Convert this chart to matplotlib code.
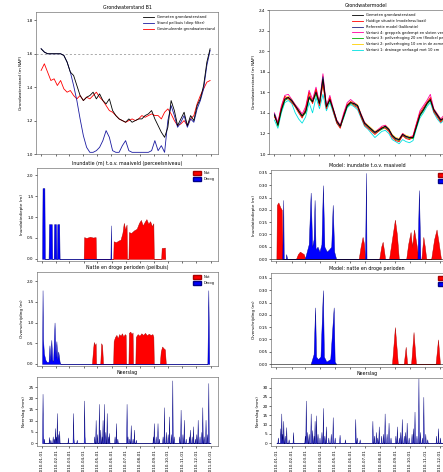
import numpy as np
import pandas as pd
import matplotlib
matplotlib.use("Agg")
import matplotlib.pyplot as plt
import matplotlib.dates as mdates
from matplotlib.patches import Patch

plt.rcParams.update({
    "font.family": ["DejaVu Sans"],
    "font.size": 3.0,
    "axes.linewidth": 0.4,
    "xtick.major.width": 0.4,
    "ytick.major.width": 0.4,
    "xtick.major.size": 1.5,
    "ytick.major.size": 1.5,
    "xtick.major.pad": 1,
    "ytick.major.pad": 1,
    "axes.titlesize": 3.4,
    "axes.titlepad": 2,
    "axes.labelpad": 2,
    "legend.fontsize": 2.6,
})

START = pd.Timestamp("2010-01-01")
week_dates = pd.date_range(START, periods=53, freq="7D")

# ---------------- groundwater levels, weekly (m) ----------------
gw_left_meas = [1.63, 1.61, 1.60, 1.60, 1.60, 1.60, 1.60, 1.59, 1.55, 1.49,
                1.47, 1.41, 1.35, 1.32, 1.34, 1.35, 1.37, 1.33, 1.36, 1.32,
                1.30, 1.33, 1.26, 1.23, 1.21, 1.20, 1.19, 1.21, 1.19, 1.20,
                1.21, 1.21, 1.23, 1.24, 1.26, 1.21, 1.17, 1.13, 1.10, 1.16,
                1.32, 1.26, 1.17, 1.21, 1.25, 1.17, 1.23, 1.20, 1.29, 1.33,
                1.41, 1.55, 1.63]
gw_left_probe = [1.63, 1.61, 1.60, 1.60, 1.60, 1.60, 1.60, 1.59, 1.55, 1.49,
                 1.41, 1.32, 1.21, 1.11, 1.04, 1.01, 1.01, 1.02, 1.04, 1.08,
                 1.14, 1.10, 1.02, 1.01, 1.01, 1.05, 1.08, 1.02, 1.01, 1.01,
                 1.01, 1.01, 1.01, 1.01, 1.02, 1.08, 1.02, 1.05, 1.01, 1.20,
                 1.29, 1.23, 1.16, 1.19, 1.23, 1.16, 1.21, 1.19, 1.27, 1.32,
                 1.39, 1.53, 1.62]
gw_left_model = [1.50, 1.54, 1.49, 1.44, 1.45, 1.41, 1.44, 1.39, 1.37, 1.38,
                 1.35, 1.33, 1.35, 1.32, 1.34, 1.33, 1.35, 1.37, 1.34, 1.32,
                 1.29, 1.26, 1.25, 1.23, 1.21, 1.20, 1.19, 1.20, 1.21, 1.20,
                 1.21, 1.23, 1.22, 1.23, 1.24, 1.23, 1.23, 1.21, 1.25, 1.27,
                 1.24, 1.20, 1.17, 1.18, 1.20, 1.17, 1.21, 1.23, 1.30, 1.35,
                 1.39, 1.43, 1.44]
gw_left_threshold = 1.60

gw_right_meas = [1.38, 1.28, 1.43, 1.53, 1.55, 1.52, 1.47, 1.42, 1.37, 1.41,
                 1.55, 1.51, 1.60, 1.49, 1.73, 1.46, 1.53, 1.43, 1.32, 1.27,
                 1.37, 1.47, 1.50, 1.49, 1.47, 1.38, 1.30, 1.27, 1.24, 1.21,
                 1.23, 1.25, 1.27, 1.24, 1.18, 1.15, 1.14, 1.19, 1.17, 1.16,
                 1.16, 1.27, 1.38, 1.43, 1.49, 1.53, 1.43, 1.38, 1.33, 1.35,
                 1.41, 1.45, 1.43]
gw_right_base = [1.36, 1.30, 1.45, 1.56, 1.54, 1.50, 1.46, 1.40, 1.35, 1.44,
                 1.60, 1.49, 1.63, 1.47, 1.68, 1.44, 1.55, 1.41, 1.30, 1.25,
                 1.38, 1.48, 1.51, 1.47, 1.45, 1.36, 1.28, 1.25, 1.22, 1.19,
                 1.22, 1.26, 1.25, 1.22, 1.16, 1.13, 1.12, 1.18, 1.15, 1.14,
                 1.17, 1.29, 1.40, 1.45, 1.50, 1.55, 1.41, 1.36, 1.31, 1.36,
                 1.40, 1.46, 1.42]
gw_right_s1 = [1.33, 1.25, 1.40, 1.50, 1.52, 1.49, 1.40, 1.34, 1.30, 1.36,
               1.50, 1.40, 1.55, 1.44, 1.58, 1.42, 1.50, 1.40, 1.30, 1.26,
               1.35, 1.45, 1.48, 1.46, 1.43, 1.35, 1.27, 1.24, 1.20, 1.16,
               1.19, 1.22, 1.23, 1.20, 1.14, 1.12, 1.10, 1.14, 1.12, 1.11,
               1.13, 1.25, 1.35, 1.40, 1.46, 1.50, 1.40, 1.34, 1.30, 1.33,
               1.38, 1.43, 1.40]
gw_right_s2 = [1.37, 1.29, 1.44, 1.54, 1.56, 1.53, 1.48, 1.43, 1.38, 1.42,
               1.57, 1.52, 1.62, 1.50, 1.76, 1.47, 1.54, 1.44, 1.33, 1.28,
               1.38, 1.48, 1.51, 1.50, 1.48, 1.39, 1.31, 1.28, 1.25, 1.22,
               1.24, 1.26, 1.28, 1.25, 1.19, 1.16, 1.15, 1.20, 1.18, 1.17,
               1.17, 1.28, 1.39, 1.44, 1.50, 1.54, 1.44, 1.39, 1.34, 1.36,
               1.42, 1.46, 1.44]
gw_right_s3 = [1.38, 1.27, 1.42, 1.52, 1.54, 1.51, 1.46, 1.41, 1.36, 1.40,
               1.54, 1.50, 1.58, 1.48, 1.70, 1.45, 1.52, 1.42, 1.31, 1.26,
               1.36, 1.46, 1.49, 1.48, 1.46, 1.37, 1.29, 1.26, 1.23, 1.20,
               1.22, 1.24, 1.26, 1.23, 1.17, 1.14, 1.13, 1.18, 1.16, 1.15,
               1.15, 1.26, 1.37, 1.42, 1.48, 1.52, 1.42, 1.37, 1.32, 1.34,
               1.40, 1.44, 1.42]
gw_right_s4 = [1.40, 1.31, 1.47, 1.57, 1.58, 1.53, 1.48, 1.44, 1.39, 1.46,
               1.62, 1.53, 1.65, 1.50, 1.78, 1.47, 1.57, 1.44, 1.33, 1.28,
               1.40, 1.50, 1.53, 1.50, 1.47, 1.39, 1.31, 1.27, 1.24, 1.21,
               1.24, 1.27, 1.28, 1.24, 1.18, 1.15, 1.14, 1.20, 1.17, 1.16,
               1.18, 1.30, 1.42, 1.47, 1.52, 1.58, 1.44, 1.39, 1.34, 1.38,
               1.43, 1.48, 1.44]
gw_right_s5 = [1.39, 1.29, 1.44, 1.54, 1.55, 1.52, 1.47, 1.42, 1.37, 1.42,
               1.56, 1.51, 1.61, 1.49, 1.75, 1.46, 1.53, 1.43, 1.32, 1.27,
               1.37, 1.47, 1.50, 1.49, 1.47, 1.38, 1.30, 1.27, 1.24, 1.21,
               1.23, 1.25, 1.27, 1.24, 1.18, 1.15, 1.14, 1.19, 1.17, 1.16,
               1.16, 1.27, 1.38, 1.43, 1.49, 1.53, 1.43, 1.38, 1.33, 1.35,
               1.41, 1.45, 1.43]

# ---------------- inundation events: day of year, depth (m) ----------------
inund_l_wet_days = [90, 91, 96, 104, 110, 116, 117,
                    154, 155, 160, 166, 170, 174, 177, 180, 183, 184,
                    187, 188, 193, 199, 205, 210, 214, 218, 222, 226, 230, 234, 238, 241, 242,
                    258, 259, 266, 267]
inund_l_wet_vals = [0, 0.52, 0.50, 0.53, 0.51, 0.52, 0,
                    0, 0.42, 0.40, 0.44, 0.46, 0.62, 0.86, 0.70, 0.82, 0,
                    0, 0.64, 0.62, 0.68, 0.72, 0.86, 0.93, 0.80, 0.88, 0.95, 0.84, 0.90, 0.78, 0.85, 0,
                    0, 0.26, 0.27, 0]
inund_l_dry_days = [0, 1, 5, 6, 14, 15, 21, 22, 25, 26, 30, 31, 32, 33, 37, 38, 148, 149, 150]
inund_l_dry_vals = [0, 1.69, 1.69, 0, 0, 0.83, 0.83, 0, 0, 0.83, 0.83, 0, 0, 0.83, 0.83, 0, 0, 0.80, 0]

inund_r_wet_days = [0, 1, 4, 8, 11, 13,
                    40, 44, 48, 52, 56, 59,
                    168, 172, 176, 179, 181,
                    210, 214, 217, 220, 222,
                    230, 236, 242, 246, 250,
                    265, 269, 274, 277, 281, 286, 290,
                    296, 300, 303, 306,
                    316, 322, 327, 331, 336]
inund_r_wet_vals = [0, 0.22, 0.23, 0.21, 0.20, 0,
                    0, 0.02, 0.03, 0.025, 0.02, 0,
                    0, 0.05, 0.09, 0.06, 0,
                    0, 0.05, 0.07, 0.03, 0,
                    0, 0.08, 0.16, 0.10, 0,
                    0, 0.06, 0.11, 0.05, 0.12, 0.06, 0,
                    0, 0.09, 0.05, 0,
                    0, 0.08, 0.12, 0.07, 0]
inund_r_dry_days = [12, 14, 15, 19, 20, 22,
                    58, 62, 66, 70, 73, 76, 78, 80, 84, 88, 92, 95, 98, 103, 108, 112, 115, 118, 122,
                    181, 183, 184, 288, 291, 294]
inund_r_dry_vals = [0, 0.24, 0, 0, 0.02, 0,
                    0, 0.03, 0.06, 0.27, 0.05, 0.08, 0.24, 0.04, 0.05, 0.03, 0.06, 0.30, 0.05, 0.03, 0.04, 0.05, 0.22, 0.03, 0,
                    0, 0.35, 0, 0, 0.28, 0]

# ---------------- wet / dry periods: day of year, depth (m) ----------------
period_l_dry_days = [0, 1, 2, 4, 7, 10, 14, 16, 18, 20, 22, 24, 27, 29, 31, 33, 35, 38, 40, 358, 360, 362]
period_l_dry_vals = [0, 1.78, 0.60, 0.25, 0.10, 0.05, 0.05, 0.45, 0.08, 0.58, 0.10, 0.06, 1.00,
                     0.15, 0.55, 0.10, 0.30, 0.05, 0, 0, 1.78, 0]
period_l_wet_days = [108, 110, 112, 114, 116, 117,
                     126, 128, 130, 132,
                     154, 155, 158, 161, 164, 167, 170, 173, 176, 179, 181, 182,
                     187, 188, 191, 194, 196, 197,
                     202, 203, 207, 211, 215, 219, 223, 227, 231, 235, 239, 241, 242,
                     255, 257, 260, 263, 266, 268]
period_l_wet_vals = [0, 0.30, 0.53, 0.45, 0.50, 0,
                     0, 0.50, 0.45, 0,
                     0, 0.55, 0.65, 0.70, 0.62, 0.72, 0.68, 0.74, 0.66, 0.72, 0.70, 0,
                     0, 0.75, 0.78, 0.72, 0.76, 0,
                     0, 0.65, 0.72, 0.68, 0.74, 0.70, 0.75, 0.69, 0.73, 0.70, 0.72, 0.66, 0,
                     0, 0.30, 0.42, 0.38, 0.35, 0]
period_r_dry_days = [70, 73, 76, 79, 81, 85, 90, 95, 97, 102, 110, 117, 119, 122]
period_r_dry_vals = [0, 0.02, 0.04, 0.23, 0.03, 0.02, 0.03, 0.30, 0.03, 0.01, 0.02, 0.23, 0.01, 0]
period_r_wet_days = [236, 242, 248, 260, 264, 267, 275, 280, 285, 325, 330, 334]
period_r_wet_vals = [0, 0.15, 0, 0, 0.07, 0, 0, 0.13, 0, 0, 0.10, 0]

# ---------------- daily precipitation (mm), rain days only ----------------
rain_l_days = [1, 2, 4, 15, 18, 23, 26, 28, 30, 32, 34, 37, 56, 67, 68, 75, 91, 92,
               113, 116, 119, 123, 126, 129, 131, 134, 137, 140, 143, 145,
               157, 160, 163, 183, 185, 189, 192, 196, 199, 203,
               240, 242, 246, 250, 253, 261, 264, 268, 272, 275, 279, 282, 285,
               297, 300, 304, 307, 311, 318, 320, 324, 327, 331, 334, 337, 341,
               345, 347, 350, 354, 357, 360]
rain_l_vals = [22, 4, 2, 2.7, 1.5, 3, 2, 6.7, 3, 13.4, 4, 5.5, 2.5, 13.4, 2, 1.5, 19, 3,
               3, 10.3, 4, 17.5, 6, 3, 10.3, 17.5, 5, 13.4, 3, 4.5,
               3, 8.9, 2, 17.5, 3, 2, 8, 2, 6, 1.5,
               3, 8.9, 3, 8.9, 2, 3, 16, 5, 4, 11.9, 4, 28, 3,
               3, 14.9, 4, 10.4, 2, 3, 6, 3, 7.5, 2, 4, 10.4, 3,
               5, 16, 3, 10.4, 4, 26.8]
rain_r_days = [3, 8, 10, 12, 14, 17, 20, 25, 34,
               58, 60, 63, 66, 70, 73, 76, 78, 81, 84, 88, 92, 95, 98, 101, 106, 111, 115, 119,
               129, 140, 161, 164, 170,
               196, 199, 203, 206, 209, 214, 218, 221, 225, 229, 233,
               243, 246, 250, 253, 256, 260, 263, 266, 270,
               276, 279, 282, 286, 290, 293, 297, 300, 304, 308,
               326, 330, 334]
rain_r_vals = [3, 8, 16, 5, 12, 4, 8.6, 2, 5.9,
               4, 23, 6, 5, 16, 7, 4, 12, 15, 5, 3, 6, 19, 4, 9, 3, 5, 14, 3,
               4.5, 2, 13, 3, 2,
               12, 4, 6, 3, 9, 4, 5, 16, 5, 11, 3,
               4, 9, 3, 6, 13, 4, 6, 11, 3,
               5, 8, 17, 4, 35, 6, 3, 25, 5, 2,
               4, 8, 3]

for a, b in [(inund_l_wet_days, inund_l_wet_vals), (inund_l_dry_days, inund_l_dry_vals),
             (inund_r_wet_days, inund_r_wet_vals), (inund_r_dry_days, inund_r_dry_vals),
             (period_l_dry_days, period_l_dry_vals), (period_l_wet_days, period_l_wet_vals),
             (period_r_dry_days, period_r_dry_vals), (period_r_wet_days, period_r_wet_vals),
             (rain_l_days, rain_l_vals), (rain_r_days, rain_r_vals)]:
    assert len(a) == len(b)


def to_dates(days):
    return START + pd.to_timedelta(np.asarray(days), unit="D")


def daily(days, vals):
    arr = np.zeros(366)
    arr[np.asarray(days)] = vals
    return arr


daily_dates = to_dates(np.arange(366))

RED = "#ff0000"
BLUE = "#0000ff"
XLIM = (pd.Timestamp("2009-12-21"), pd.Timestamp("2011-01-17"))

W, H = 443, 472
fig = plt.figure(figsize=(W / 100, H / 100), dpi=100)


def panel(x0, y0, x1, y1):
    return fig.add_axes([x0 / W, 1 - y1 / H, (x1 - x0) / W, (y1 - y0) / H])


left_rows = [(36, 12, 218, 154), (37, 168, 218, 261), (37, 272, 218, 366), (37, 377, 218, 446)]
right_rows = [(269, 10, 463, 154), (271, 170, 463, 261), (271, 273, 463, 367), (271, 378, 463, 446)]

axL = [panel(*r) for r in left_rows]
axR = [panel(*r) for r in right_rows]

for ax in axL + axR:
    ax.set_xlim(*XLIM)
    ax.xaxis.set_major_locator(mdates.MonthLocator())
    ax.xaxis.set_major_formatter(mdates.DateFormatter("%Y-%m-%d"))
    for sp in ax.spines.values():
        sp.set_color("#555555")
for ax in axL[:3] + axR[:3]:
    ax.tick_params(axis="x", labelbottom=False)
for ax in (axL[3], axR[3]):
    ax.tick_params(axis="x", labelrotation=90)

# ---- row 1: groundwater ----
ax = axL[0]
ax.axhline(gw_left_threshold, color="#888888", lw=0.5, ls=(0, (3, 3)))
ax.plot(week_dates, gw_left_model, color=RED, lw=0.6, label="Gesimuleerde grondwaterstand")
ax.plot(week_dates, gw_left_probe, color="#1a1aa0", lw=0.6, label="Stand peilbuis (diep filter)")
ax.plot(week_dates, gw_left_meas, color="black", lw=0.6, label="Gemeten grondwaterstand")
ax.set_ylim(1.0, 1.85)
ax.set_yticks([1.0, 1.2, 1.4, 1.6, 1.8])
ax.set_title("Grondwaterstand B1")
ax.set_ylabel("Grondwaterstand (m NAP)")
h, l = ax.get_legend_handles_labels()
ax.legend(h[::-1], l[::-1], loc="upper right", frameon=False, handlelength=3)

ax = axR[0]
series_r = [
    (gw_right_s1, "#00e0e0", "Variant 1: drainage verlaagd met 10 cm"),
    (gw_right_s2, "#ffd000", "Variant 2: peilverhoging 10 cm in de zomer"),
    (gw_right_s3, "#00b000", "Variant 3: peilverhoging 20 cm (flexibel peilbeheer)"),
    (gw_right_s4, "#ff00a0", "Variant 4: greppels gedempt en sloten verondiept"),
    (gw_right_s5, "#202080", "Referentie model (kalibratie)"),
    (gw_right_base, RED, "Huidige situatie (modelresultaat)"),
    (gw_right_meas, "black", "Gemeten grondwaterstand"),
]
for vals, col, lab in series_r:
    ax.plot(week_dates, vals, color=col, lw=0.6, label=lab)
ax.set_ylim(1.0, 2.4)
ax.set_yticks(np.round(np.arange(1.0, 2.41, 0.2), 1))
ax.set_title("Grondwatermodel")
ax.set_ylabel("Grondwaterstand (m NAP)")
h, l = ax.get_legend_handles_labels()
ax.legend(h[::-1], l[::-1], loc="upper right", frameon=False, handlelength=3)

# ---- rows 2 and 3: inundation and wet / dry periods ----
def fill_events(ax, wet_days, wet_vals, dry_days, dry_vals):
    ax.fill_between(to_dates(wet_days), wet_vals, color=RED, lw=0.3, edgecolor="#aa0000")
    ax.fill_between(to_dates(dry_days), dry_vals, color=BLUE, lw=0.3, edgecolor="#000088")


def wet_dry_legend(ax):
    ax.legend(handles=[Patch(facecolor=RED, edgecolor="#aa0000", label="Nat"),
                       Patch(facecolor=BLUE, edgecolor="#000088", label="Droog")],
              loc="upper right", frameon=False, handlelength=2.2, handleheight=1.2)


ax = axL[1]
fill_events(ax, inund_l_wet_days, inund_l_wet_vals, inund_l_dry_days, inund_l_dry_vals)
ax.set_ylim(-0.05, 2.17)
ax.set_yticks([0.0, 0.5, 1.0, 1.5, 2.0])
ax.set_title("Inundatie (m) t.o.v. maaiveld (perceelsniveau)")
ax.set_ylabel("Inundatiediepte (m)")
wet_dry_legend(ax)

ax = axR[1]
ax.axhline(0, color="black", lw=0.4)
fill_events(ax, inund_r_wet_days, inund_r_wet_vals, inund_r_dry_days, inund_r_dry_vals)
ax.set_ylim(-0.008, 0.362)
ax.set_yticks(np.round(np.arange(0, 0.351, 0.05), 2))
ax.set_title("Model: inundatie t.o.v. maaiveld")
ax.set_ylabel("Inundatiediepte (m)")
wet_dry_legend(ax)

ax = axL[2]
fill_events(ax, period_l_wet_days, period_l_wet_vals, period_l_dry_days, period_l_dry_vals)
ax.set_ylim(-0.05, 2.22)
ax.set_yticks([0.0, 0.5, 1.0, 1.5, 2.0])
ax.set_title("Natte en droge perioden (peilbuis)")
ax.set_ylabel("Overschrijding (m)")
wet_dry_legend(ax)

ax = axR[2]
ax.axhline(0, color="black", lw=0.4)
fill_events(ax, period_r_wet_days, period_r_wet_vals, period_r_dry_days, period_r_dry_vals)
ax.set_ylim(-0.012, 0.37)
ax.set_yticks(np.round(np.arange(0, 0.351, 0.05), 2))
ax.set_title("Model: natte en droge perioden")
ax.set_ylabel("Overschrijding (m)")
wet_dry_legend(ax)

# ---- row 4: precipitation ----
ax = axL[3]
ax.fill_between(daily_dates, daily(rain_l_days, rain_l_vals), color="#3030ff", lw=0.3, edgecolor="#000070")
ax.set_ylim(-1.3, 29.5)
ax.set_yticks([0, 5, 10, 15, 20, 25])
ax.set_title("Neerslag")
ax.set_ylabel("Neerslag (mm)")

ax = axR[3]
ax.fill_between(daily_dates, daily(rain_r_days, rain_r_vals), color="#3030ff", lw=0.3, edgecolor="#000070")
ax.set_ylim(-1.6, 35.2)
ax.set_yticks([0, 5, 10, 15, 20, 25, 30])
ax.set_title("Neerslag")
ax.set_ylabel("Neerslag (mm)")

fig.savefig("out.png", dpi=100)
